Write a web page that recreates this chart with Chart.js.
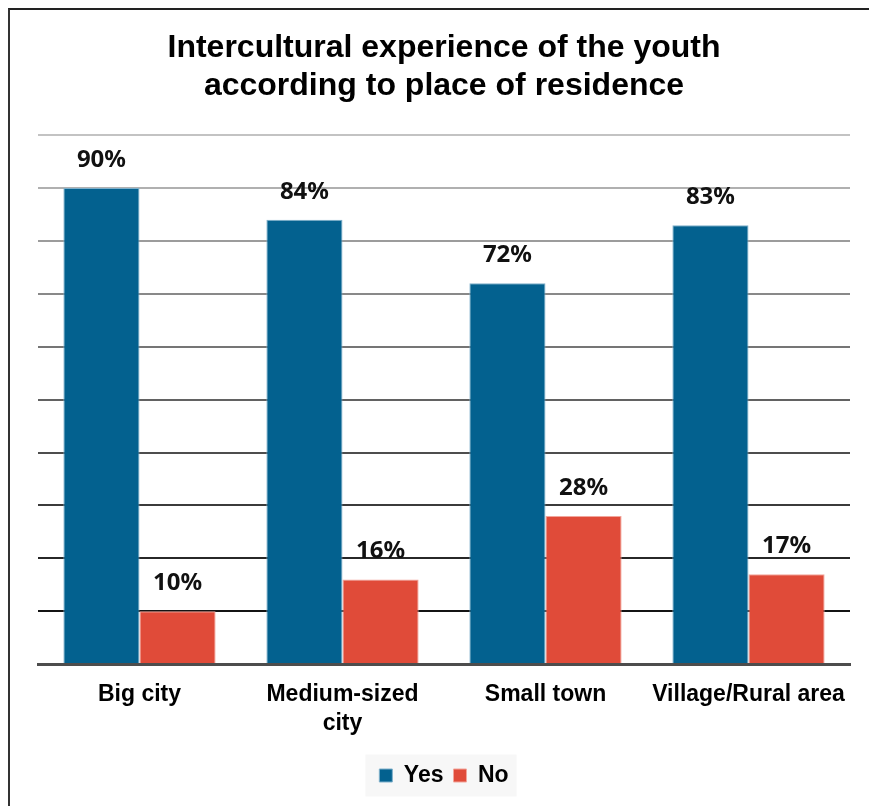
<!DOCTYPE html>
<html><head><meta charset="utf-8">
<script src="https://cdn.jsdelivr.net/npm/chart.js@4"></script>
<style>
html,body{margin:0;padding:0;background:#fff;}
#wrap{position:absolute;left:8px;top:8px;width:861px;height:798px;border-left:2px solid #333;border-top:2px solid #222;box-sizing:border-box;}
#wrap canvas{display:block;}
</style></head><body>
<div id="wrap"><canvas id="c" width="859" height="796"></canvas></div>
<script>
const categories = [["Big city"], ["Medium-sized", "city"], ["Small town"], ["Village/Rural area"]];
const seriesNames = ["Yes", "No"];
const yesValues = [90, 84, 72, 83];
const noValues = [10, 16, 28, 17];
const titleLines = ["Intercultural experience of the youth", "according to place of residence"];

Chart.defaults.font.family = '"Liberation Sans", Arial, sans-serif';
Chart.defaults.color = '#000';

function gridShade(v) {
  if (v <= 0) return '#4a4a4a';
  const g = Math.round(20 + (v - 10) / 90 * 175);
  return 'rgb(' + g + ',' + g + ',' + g + ')';
}

const valueLabels = {
  id: 'valueLabels',
  afterDatasetsDraw(chart) {
    const ctx = chart.ctx;
    ctx.save();
    ctx.font = 'bold 24px "Noto Sans", "Liberation Sans", sans-serif';
    ctx.fillStyle = '#111';
    ctx.textAlign = 'center';
    ctx.textBaseline = 'alphabetic';
    chart.data.datasets.forEach((ds, i) => {
      chart.getDatasetMeta(i).data.forEach((bar, j) => {
        ctx.fillText(ds.data[j] + '%', bar.x, bar.y - 21);
      });
    });
    ctx.restore();
  }
};

const legendBg = {
  id: 'legendBg',
  beforeDraw(chart) {
    const lg = chart.legend;
    if (!lg || !lg.legendHitBoxes || !lg.legendHitBoxes.length) return;
    const hb = lg.legendHitBoxes;
    const first = hb[0], last = hb[hb.length - 1];
    const cy = first.top + first.height / 2;
    const ctx = chart.ctx;
    ctx.save();
    ctx.fillStyle = '#f7f7f7';
    ctx.fillRect(first.left - 14, cy - 21, (last.left + last.width + 8) - (first.left - 14), 42);
    ctx.restore();
  }
};

new Chart(document.getElementById('c'), {
  type: 'bar',
  data: {
    labels: categories,
    datasets: [
      { label: seriesNames[0], data: yesValues, backgroundColor: '#03618f', borderColor: '#7fb0cb', borderWidth: 1 },
      { label: seriesNames[1], data: noValues, backgroundColor: '#e04b39', borderColor: '#f2a59b', borderWidth: 1 }
    ]
  },
  options: {
    responsive: false,
    animation: false,
    devicePixelRatio: 1,
    categoryPercentage: 0.75,
    barPercentage: 1.0,
    layout: { padding: { left: 28, right: 19, top: 0, bottom: 9 } },
    plugins: {
      title: {
        display: true,
        text: titleLines,
        font: { size: 32, weight: 'bold', lineHeight: 1.16 },
        color: '#000',
        padding: { top: 20, bottom: 31 }
      },
      legend: {
        position: 'bottom',
        labels: { font: { size: 23, weight: 'bold' }, color: '#000', boxWidth: 13, boxHeight: 13, padding: 10 }
      },
      tooltip: { enabled: false }
    },
    scales: {
      x: {
        grid: { display: false, drawTicks: false },
        border: { display: true, color: '#4d4d4d', width: 3 },
        ticks: { font: { size: 23, weight: 'bold', lineHeight: 1.26 }, color: '#000', padding: 16, maxRotation: 0 }
      },
      y: {
        min: 0, max: 100,
        ticks: { display: false, stepSize: 10 },
        border: { display: false },
        grid: { drawTicks: false, lineWidth: 2, color: (c) => gridShade(c.tick ? c.tick.value : 0) },
        afterFit(s) { s.width = 0; }
      }
    }
  },
  plugins: [legendBg, valueLabels]
});
</script>
</body></html>
